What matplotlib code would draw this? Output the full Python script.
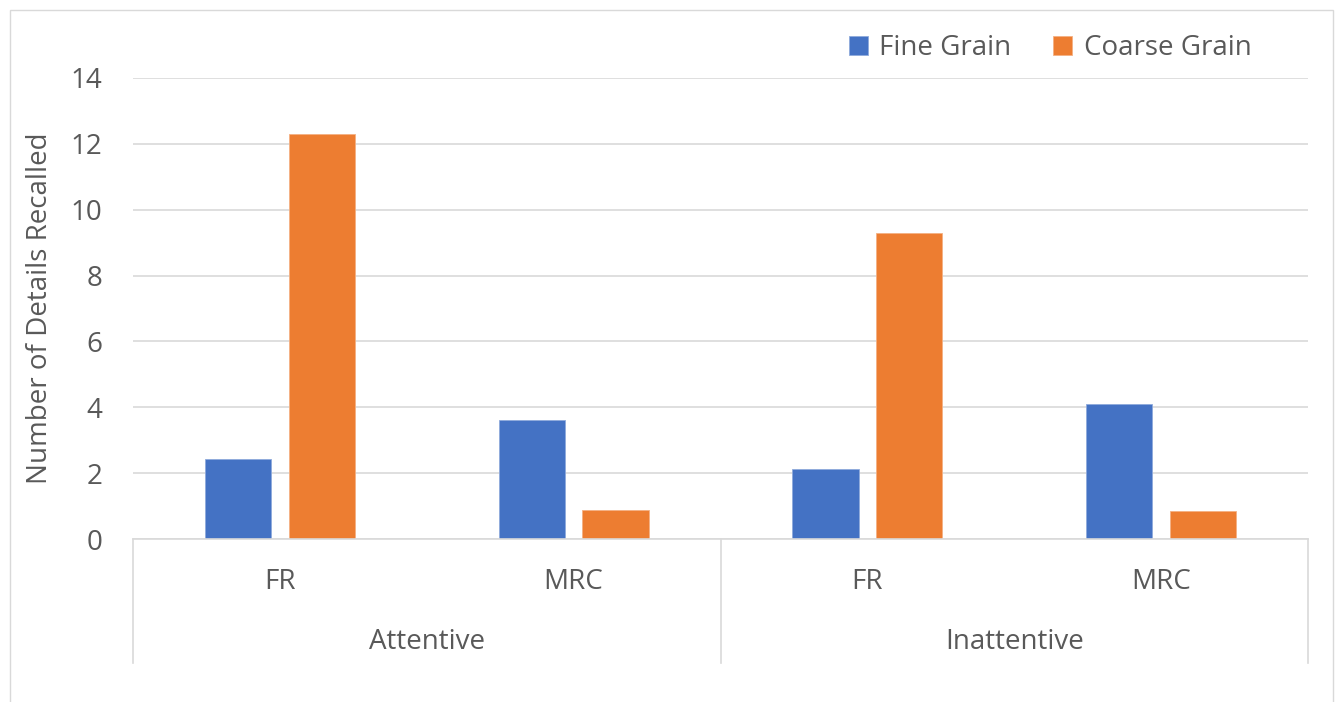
import matplotlib
matplotlib.use("Agg")
import matplotlib.pyplot as plt
from matplotlib.patches import Rectangle
from matplotlib.lines import Line2D
import matplotlib.transforms as mtransforms
import numpy as np

plt.rcParams['font.family'] = ['Open Sans', 'DejaVu Sans']

groups = ["Attentive", "Inattentive"]
subcats = ["FR", "MRC", "FR", "MRC"]
series_names = ["Fine Grain", "Coarse Grain"]
fine = [2.42, 3.61, 2.13, 4.09]
coarse = [12.30, 0.88, 9.29, 0.84]
colors = ["#4472C4", "#ED7D31"]
yticks = [0, 2, 4, 6, 8, 10, 12, 14]

FS = 20
W, H = 1341, 702
fig = plt.figure(figsize=(W / 100, H / 100), dpi=100)
fig.patch.set_facecolor("white")

# outer chart border
fig.add_artist(Rectangle((10 / W, -0.01), 1323 / W, (H - 10) / H + 0.01,
                         transform=fig.transFigure, fill=False,
                         edgecolor="#d9d9d9", linewidth=1.0))

left, right, top, bottom = 133, 1308, 78, 539
ax = fig.add_axes([left / W, (H - bottom) / H, (right - left) / W, (bottom - top) / H])
ax.set_xlim(-0.5, 3.5)
ax.set_ylim(0, 14)
for s in ax.spines.values():
    s.set_visible(False)

x = np.arange(len(subcats))
bw = 0.225
off = 0.1425
ax.bar(x - off, fine, bw, color=colors[0], label=series_names[0], zorder=3,
       edgecolor="#8faadc", linewidth=0.6)
ax.bar(x + off, coarse, bw, color=colors[1], label=series_names[1], zorder=3,
       edgecolor="#f4b183", linewidth=0.6)

ax.set_yticks(yticks)
ax.set_yticklabels([str(t) for t in yticks])
ax.yaxis.grid(True, color="#d9d9d9", linewidth=1.2, zorder=0)
ax.tick_params(axis="y", length=0, pad=22, labelsize=FS, labelcolor="#595959")
ax.tick_params(axis="x", length=0, labelbottom=False)

ax.set_ylabel("Number of Details Recalled", fontsize=FS, color="#595959", labelpad=12)

# category axis line and dividers
trans = mtransforms.blended_transform_factory(ax.transData, ax.transAxes)
depth = -(663 - 539) / (bottom - top)
ax.add_line(Line2D([-0.5, 3.5], [0, 0], transform=trans, color="#d9d9d9",
                   linewidth=1.2, clip_on=False, zorder=4))
for xv in [-0.5, 1.5, 3.5]:
    ax.add_line(Line2D([xv, xv], [0, depth], transform=trans, color="#d9d9d9",
                       linewidth=1.2, clip_on=False))

y_sub = -(582 - 539) / (bottom - top)
y_grp = -(642 - 539) / (bottom - top)
for xi, lab in zip(x, subcats):
    ax.text(xi, y_sub, lab, transform=trans, ha="center", va="center",
            fontsize=FS, color="#595959")
for gi, g in enumerate(groups):
    ax.text(gi * 2 + 0.5, y_grp, g, transform=trans, ha="center", va="center",
            fontsize=FS, color="#595959")

leg = fig.legend(loc="center", bbox_to_anchor=(1050 / W, (H - 48) / H), ncol=2,
                 frameon=False, fontsize=FS, handlelength=0.7, handleheight=0.7,
                 handletextpad=0.4, columnspacing=1.5)
for t in leg.get_texts():
    t.set_color("#595959")

fig.savefig("out.png", dpi=100)
